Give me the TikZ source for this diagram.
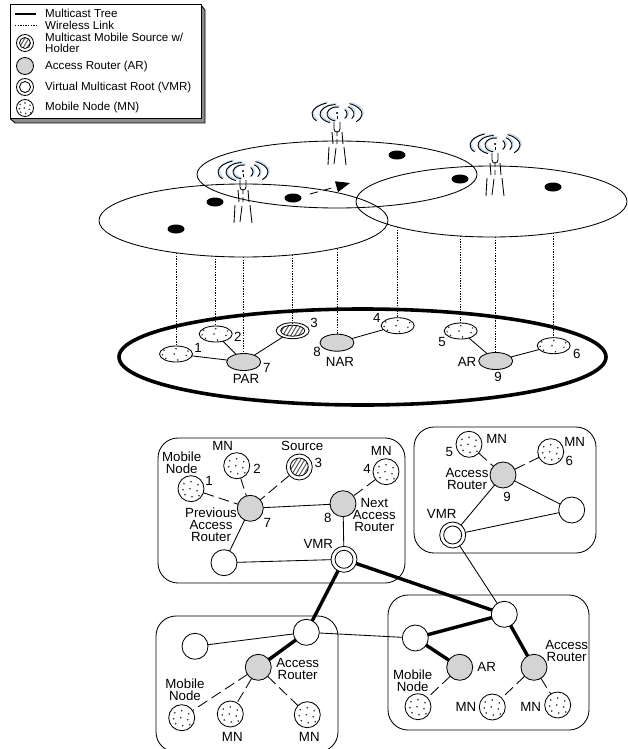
\documentclass[tikz,border=0pt]{standalone}
\usepackage{fontspec}
\setmainfont{Liberation Sans}
\usetikzlibrary{arrows.meta,shapes.geometric}
\definecolor{ink}{HTML}{000000}
\definecolor{router}{HTML}{D4D4D4}
\definecolor{bevel}{HTML}{8C8C8C}
\definecolor{hatch}{HTML}{5A5A5A}
\definecolor{halo}{HTML}{C4DCF4}
\newcommand{\mndots}[2]{%
  \foreach \a/\b in {-7/-5,0/-7,7/-4,-8/1,-1/0,6/2,-6/6,1/8,8/7}
    \fill[ink!85,shift={(path picture bounding box.center)}] (\a*#1,\b*#2) circle (.85pt);}
\newcommand{\hatchfill}[2]{%
  \begin{scope}[shift={(path picture bounding box.center)}]
    \clip (0,0) ellipse (#1pt and #2pt);
    \foreach \d in {-15,-11,...,15}
      \draw[hatch,line width=1pt] (\d-6,10) -- (\d+6,-10);
  \end{scope}
  \draw[ink,line width=.8pt,shift={(path picture bounding box.center)}] (0,0) ellipse (#1pt and #2pt);}
\tikzset{
  base line/.style={ink,line width=.85pt},
  tree line/.style={ink,line width=3.4pt},
  radio line/.style={base line,dash pattern=on 11pt off 5pt},
  wireless/.style={ink,line width=.8pt,dash pattern=on 1.4pt off 1.2pt},
  cell/.style={ellipse,draw=ink,line width=.85pt,inner sep=0pt,outer sep=0pt},
  holder/.style={ellipse,fill=ink,minimum width=17pt,minimum height=9pt,inner sep=0pt},
  disc/.style={circle,draw=ink,line width=.85pt,fill=white,inner sep=0pt,outer sep=0pt,minimum size=26pt},
  router node/.style={disc,fill=router},
  mobile/.style={disc,path picture={\mndots{1}{1}}},
  source node/.style={disc,path picture={\hatchfill{9}{9}}},
  vmr node/.style={disc,path picture={\draw[base line,shift={(path picture bounding box.center)}] (0,0) circle (9pt);}},
  flat/.style={ellipse,minimum width=33pt,minimum height=16pt},
  flat router/.style={router node,flat,minimum width=34pt,minimum height=17pt},
  flat mobile/.style={disc,flat,path picture={\mndots{1.7}{.75}}},
  flat source/.style={disc,flat,path picture={\hatchfill{12}{5.5}}},
  small disc/.style={minimum size=17pt},
  tag/.style={font=\fontsize{13.3}{12}\selectfont,text=ink,inner sep=0pt,align=center},
  legend text/.style={tag,anchor=west,font=\fontsize{11.6}{10.5}\selectfont},
  antenna/.pic={
    \foreach \rx/\ry/\la/\lb/\ra/\rb in {25/12/115/215/60/-40,17/9.5/95/245/50/-30,10/7/80/260/40/-40} {
      \draw[halo,line width=1.5pt,shift={(1.2,-1)}] (\la:\rx pt and \ry pt) arc (\la:\lb:\rx pt and \ry pt);
      \draw[halo,line width=1.5pt,shift={(1.2,-1)}] (\ra:\rx pt and \ry pt) arc (\ra:\rb:\rx pt and \ry pt);
    }
    \foreach \rx/\ry/\la/\lb/\ra/\rb in {25/12/115/215/60/-40,17/9.5/95/245/50/-30,10/7/80/260/40/-40} {
      \draw[base line,line width=.9pt] (\la:\rx pt and \ry pt) arc (\la:\lb:\rx pt and \ry pt);
      \draw[base line,line width=.9pt] (\ra:\rx pt and \ry pt) arc (\ra:\rb:\rx pt and \ry pt);
    }
    \fill[ink] (0,-1) circle (1.2pt);
    \draw[base line] (0,2) -- (0,5);
    \draw[base line] (-3,8) -- (-3,15) arc (180:360:3pt) -- (3,8);
    \draw[base line] (-5,18) -- (-4,30) (-8,33) -- (-9,51);
    \draw[base line] (0,18) -- (0,22) (0,25) -- (0,30) (-1,34) -- (-3,50);
    \draw[base line] (5,18) -- (6,30) (7,33) -- (9,51);
  }
}
\begin{document}
\begin{tikzpicture}[x=1pt,y=-1pt]
  \path[use as bounding box] (0,0) rectangle (627,749);
  \fill[white] (0,0) rectangle (627,749);

  % Legend box with its bevel.
  \fill[bevel] (201,5) -- (205,10) -- (205,123) -- (15,123) -- (10.5,119) -- (201,119) -- cycle;
  \draw[base line] (201,5) -- (205,10) -- (205,123) -- (15,123) -- (10.5,119);
  \draw[base line,fill=white,line width=1pt] (10.5,5) rectangle (201,119);
  \draw[tree line,line width=2.6pt] (15,14) -- (36,14);
  \draw[wireless] (15,25) -- (36,25);
  \node[source node,small disc,path picture={\hatchfill{5.5}{5.5}}] (keysource) at (25,43) {};
  \node[router node,small disc] (keyrouter) at (25,66) {};
  \node[vmr node,small disc,path picture={\draw[base line,shift={(path picture bounding box.center)}] (0,0) circle (5.5pt);}] (keyvmr) at (25,87) {};
  \node[disc,small disc,path picture={\mndots{.7}{.7}}] (keymobile) at (25,108) {};
  \node[legend text] (keytree) at (45,13) {Multicast Tree};
  \node[legend text] (keylink) at (45,25) {Wireless Link};
  \node[legend text,align=left] (keysrc) at (45,43) {Multicast Mobile Source w/\\Holder};
  \node[legend text] (keyar) at (45,66) {Access Router (AR)};
  \node[legend text] (keyroot) at (45,87) {Virtual Multicast Root (VMR)};
  \node[legend text] (keymn) at (45,107) {Mobile Node (MN)};

  % Radio cells seen from above.
  \node[cell,minimum width=289pt,minimum height=73pt] (cellA) at (243.5,220.5) {};
  \node[cell,minimum width=280pt,minimum height=67pt] (cellB) at (337,174.5) {};
  \node[cell,minimum width=271pt,minimum height=71pt] (cellC) at (491.5,201.5) {};
  \pic at (243,172) {antenna};
  \pic at (337,114) {antenna};
  \pic at (495,145) {antenna};
  \node[holder] (hold1) at (176,229) {};
  \node[holder] (hold2) at (215,202) {};
  \node[holder] (hold3) at (293,198) {};
  \node[holder] (hold4) at (397,155) {};
  \node[holder] (hold5) at (460,179) {};
  \node[holder] (hold6) at (553,187) {};
  \coordinate (movefrom) at (310,194);
  \coordinate (moveto) at (350,183);
  \draw[base line,dash pattern=on 8pt off 6pt,-{Triangle[length=14pt,width=11pt]}] (movefrom) -- (moveto);

  % Ground network.
  \node[draw=ink,ellipse,line width=3.6pt,minimum width=487pt,minimum height=96pt,inner sep=0pt,outer sep=0pt] (ground) at (362.5,357) {};
  \node[flat mobile] (low1) at (176,354) {};
  \node[flat mobile] (low2) at (215.7,334) {};
  \node[flat source] (low3) at (292.7,330.7) {};
  \node[flat mobile] (low4) at (397.7,325.7) {};
  \node[flat mobile] (low5) at (460.7,331) {};
  \node[flat mobile] (low6) at (553.7,345.7) {};
  \node[flat router] (low7) at (243.7,362) {};
  \node[flat router] (low8) at (337,342.7) {};
  \node[flat router] (low9) at (495.7,361) {};
  \draw[base line] (low1) -- (low7);
  \draw[base line] (low2) -- (low7);
  \draw[base line] (low3) -- (low7);
  \draw[base line] (low8) -- (low4);
  \draw[base line] (low5) -- (low9);
  \draw[base line] (low9) -- (low6);
  \node[tag] (num1) at (198,348) {1};
  \node[tag] (num2) at (237.7,337) {2};
  \node[tag] (num3) at (314,322.7) {3};
  \node[tag] (num4) at (376.7,317.7) {4};
  \node[tag] (num5) at (442,341.7) {5};
  \node[tag] (num6) at (576.7,354) {6};
  \node[tag] (num7) at (266.7,367.7) {7};
  \node[tag] (num8) at (317,352) {8};
  \node[tag] (num9) at (498,377) {9};
  \node[tag] (parname) at (246,379) {PAR};
  \node[tag] (narname) at (340,362) {NAR};
  \node[tag] (arname) at (467,361.7) {AR};

  % Wireless links down from the cells.
  \coordinate (air1) at (176,253);
  \coordinate (air2) at (215.7,256);
  \coordinate (air3) at (292.7,255);
  \coordinate (air4) at (397.7,227);
  \coordinate (air5) at (460.7,236);
  \coordinate (air6) at (553.7,233);
  \coordinate (air7) at (243.7,257);
  \coordinate (air8) at (337,249);
  \coordinate (air9) at (495.7,237);
  \foreach \n in {1,...,9}
    \draw[wireless] (air\n) -- (low\n.north);

  % Domains of the tree view.
  \draw[base line,rounded corners=20pt] (158,438) rectangle (405,583);
  \draw[base line,rounded corners=20pt] (414,427) rectangle (596,553);
  \draw[base line,rounded corners=20pt] (156,616) rectangle (338,752);
  \draw[base line,rounded corners=20pt] (388,595) rectangle (589,730);

  % Domain with the source.
  \node[mobile] (mn1) at (191,488.7) {};
  \node[mobile] (mn2) at (236.7,465.7) {};
  \node[source node] (src3) at (299.3,467) {};
  \node[mobile] (mn4) at (386,471.7) {};
  \node[router node] (ar7) at (250.3,508.3) {};
  \node[router node] (ar8) at (343,503.7) {};
  \node[disc] (plain1) at (224,562.7) {};
  \node[vmr node] (vmr1) at (344,559.3) {};
  \node[tag] (txtA) at (181.7,462.7) {Mobile\\Node};
  \node[tag] (txtB) at (222.7,446) {MN};
  \node[tag] (txtC) at (257,469) {2};
  \node[tag] (txtD) at (302.3,446) {Source};
  \node[tag] (txtE) at (318.3,462.7) {3};
  \node[tag] (txtF) at (381.3,450.7) {MN};
  \node[tag] (txtG) at (367,469) {4};
  \node[tag] (txtH) at (209,481) {1};
  \node[tag] (txtI) at (211,524.5) {Previous\\Access\\Router};
  \node[tag] (txtJ) at (267.3,522.7) {7};
  \node[tag] (txtK) at (327.7,517.7) {8};
  \node[tag] (txtL) at (374.3,515) {Next\\Access\\Router};
  \node[tag] (txtM) at (318.3,544) {VMR};
  \draw[radio line] (mn1) -- (ar7);
  \draw[radio line] (mn2) -- (ar7);
  \draw[radio line] (src3) -- (ar7);
  \draw[radio line] (mn4) -- (ar8);
  \draw[base line] (ar7) -- (ar8);
  \draw[base line] (ar7) -- (plain1);
  \draw[base line] (plain1) -- (vmr1);
  \draw[base line] (ar8) -- (vmr1);

  % Domain to the upper right.
  \node[mobile] (mn5) at (469,444.3) {};
  \node[mobile] (mn6) at (550.7,451.7) {};
  \node[router node] (ar9) at (503,475) {};
  \node[disc] (plain2) at (571.7,510) {};
  \node[vmr node] (vmr2) at (452.7,535) {};
  \node[tag] (txtN) at (496.7,439.3) {MN};
  \node[tag] (txtO) at (449.3,451.7) {5};
  \node[tag] (txtP) at (574.7,441.7) {MN};
  \node[tag] (txtQ) at (569.3,460.7) {6};
  \node[tag] (txtR) at (467,479) {Access\\Router};
  \node[tag] (txtS) at (507,496.7) {9};
  \node[tag] (txtT) at (441.7,514.3) {VMR};
  \draw[radio line] (mn5) -- (ar9);
  \draw[radio line] (mn6) -- (ar9);
  \draw[base line] (ar9) -- (vmr2);
  \draw[base line] (ar9) -- (plain2);
  \draw[base line] (plain2) -- (vmr2);

  % Domain to the lower left.
  \node[disc] (plain3) at (195,646.3) {};
  \node[disc] (plain4) at (306.3,632.3) {};
  \node[router node] (ar10) at (258.3,667.3) {};
  \node[mobile] (mn7) at (181.7,717.7) {};
  \node[mobile] (mn8) at (230.3,714) {};
  \node[mobile] (mn9) at (307.3,714.7) {};
  \node[tag] (txtU) at (297.7,669) {Access\\Router};
  \node[tag] (txtV) at (185,689.3) {Mobile\\Node};
  \node[tag] (txtW) at (232.3,736.7) {MN};
  \node[tag] (txtX) at (309.3,736.7) {MN};
  \draw[radio line] (ar10) -- (mn7);
  \draw[radio line] (ar10) -- (mn8);
  \draw[radio line] (ar10) -- (mn9);
  \draw[base line] (plain3) -- (plain4);

  % Domain to the lower right.
  \node[disc] (plain5) at (504.3,614.3) {};
  \node[disc] (plain6) at (415.3,638) {};
  \node[router node] (ar11) at (459.7,667.3) {};
  \node[router node] (ar12) at (534,667.3) {};
  \node[mobile] (mn10) at (418,706.7) {};
  \node[mobile] (mn11) at (492.3,707) {};
  \node[mobile] (mn12) at (557.7,705) {};
  \node[tag] (txtY) at (486.7,667.3) {AR};
  \node[tag] (txtZ) at (566.7,650.7) {Access\\Router};
  \node[tag] (txtAa) at (412.7,681) {Mobile\\Node};
  \node[tag] (txtAb) at (466,707) {MN};
  \node[tag] (txtAc) at (530.7,707) {MN};
  \draw[radio line] (ar11) -- (mn10);
  \draw[radio line] (ar12) -- (mn11);
  \draw[radio line] (ar12) -- (mn12);

  % Links between the domains, then the tree itself.
  \draw[base line] (vmr2) -- (plain5);
  \draw[base line] (plain4) -- (plain6);
  \draw[tree line] (vmr1) -- (plain5);
  \draw[tree line] (vmr1) -- (plain4);
  \draw[tree line] (plain4) -- (ar10);
  \draw[tree line] (plain5) -- (plain6);
  \draw[tree line] (plain6) -- (ar11);
  \draw[tree line] (plain5) -- (ar12);
\end{tikzpicture}
\end{document}
